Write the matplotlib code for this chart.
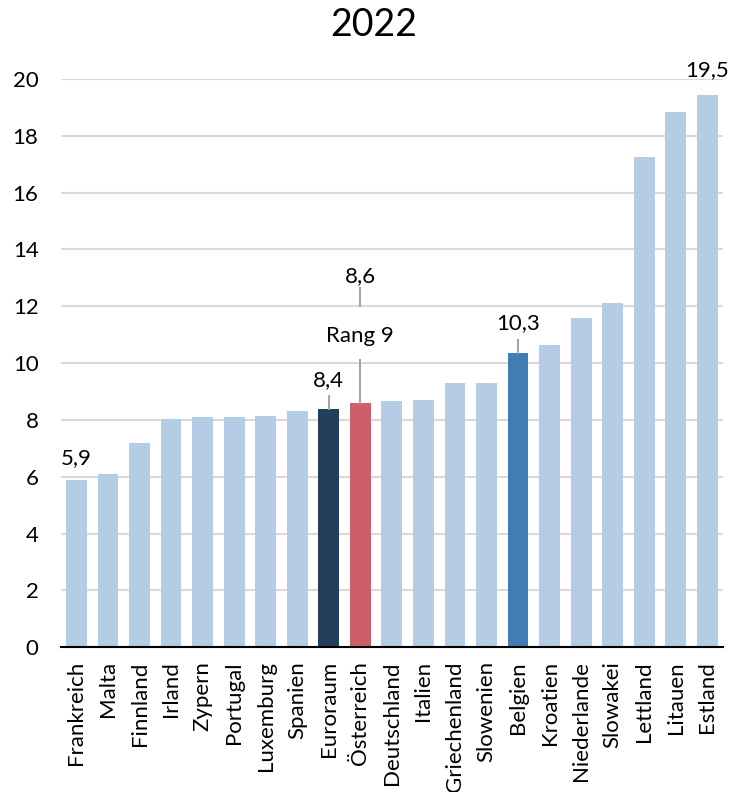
import numpy as np
import matplotlib.pyplot as plt

countries = ['Frankreich', 'Malta', 'Finnland', 'Irland', 'Zypern', 'Portugal',
             'Luxemburg', 'Spanien', 'Euroraum', 'Österreich', 'Deutschland',
             'Italien', 'Griechenland', 'Slowenien', 'Belgien', 'Kroatien',
             'Niederlande', 'Slowakei', 'Lettland', 'Litauen', 'Estland']
values = [5.9, 6.1, 7.2, 8.05, 8.1, 8.1, 8.15, 8.3, 8.4, 8.6, 8.65,
          8.7, 9.3, 9.3, 10.35, 10.65, 11.6, 12.1, 17.25, 18.85, 19.45]
yticks = [0, 2, 4, 6, 8, 10, 12, 14, 16, 18, 20]

plt.rcParams['font.family'] = ['Lato', 'DejaVu Sans']

light = '#B4CCE4'
special = {'Euroraum': '#223E5A', 'Österreich': '#CD5F6A', 'Belgien': '#417CB5'}
colors = [special.get(c, light) for c in countries]

fig = plt.figure(figsize=(7.33, 7.92), dpi=100)
ax = fig.add_axes([0.0828, 0.1827, 0.9036, 0.7176])

x = np.arange(len(countries))
ax.bar(x, values, width=0.66, color=colors, zorder=2)

ax.set_xlim(-0.5, len(countries) - 0.5)
ax.set_ylim(0, 20)
ax.set_yticks(yticks)
ax.set_yticklabels([str(t) for t in yticks], fontsize=16)
ax.set_xticks(x)
ax.set_xticklabels(countries, rotation=90, fontsize=16)
ax.tick_params(axis='y', length=0, pad=16)
ax.tick_params(axis='x', length=0, pad=10)
ax.grid(axis='y', color='#D9D9D9', linewidth=1.5, zorder=0)
for s in ['left', 'right', 'top']:
    ax.spines[s].set_visible(False)
ax.spines['bottom'].set_color('black')
ax.spines['bottom'].set_linewidth(1.5)
ax.spines['bottom'].set_zorder(3)

lead = '#A6A6A6'
fs = 16
# value labels
ax.text(0, 6.65, '5,9', ha='center', va='center', fontsize=fs)
ax.text(20, 20.3, '19,5', ha='center', va='center', fontsize=fs, clip_on=False)

i = countries.index('Euroraum')
ax.plot([i, i], [values[i], 8.85], color=lead, lw=1.5, zorder=3)
ax.text(i, 9.4, '8,4', ha='center', va='center', fontsize=fs)

i = countries.index('Belgien')
ax.plot([i, i], [values[i], 10.8], color=lead, lw=1.5, zorder=3)
ax.text(i, 11.4, '10,3', ha='center', va='center', fontsize=fs)

i = countries.index('Österreich')
ax.plot([i, i], [values[i], 10.1], color=lead, lw=1.5, zorder=3)
ax.text(i, 10.95, 'Rang 9', ha='center', va='center', fontsize=fs)
ax.plot([i, i], [12.0, 12.65], color=lead, lw=1.5, zorder=3)
ax.text(i, 13.05, '8,6', ha='center', va='center', fontsize=fs)

fig.text(0.51, 0.968, '2022', ha='center', va='center', fontsize=27)

plt.savefig('out.png', dpi=100)
